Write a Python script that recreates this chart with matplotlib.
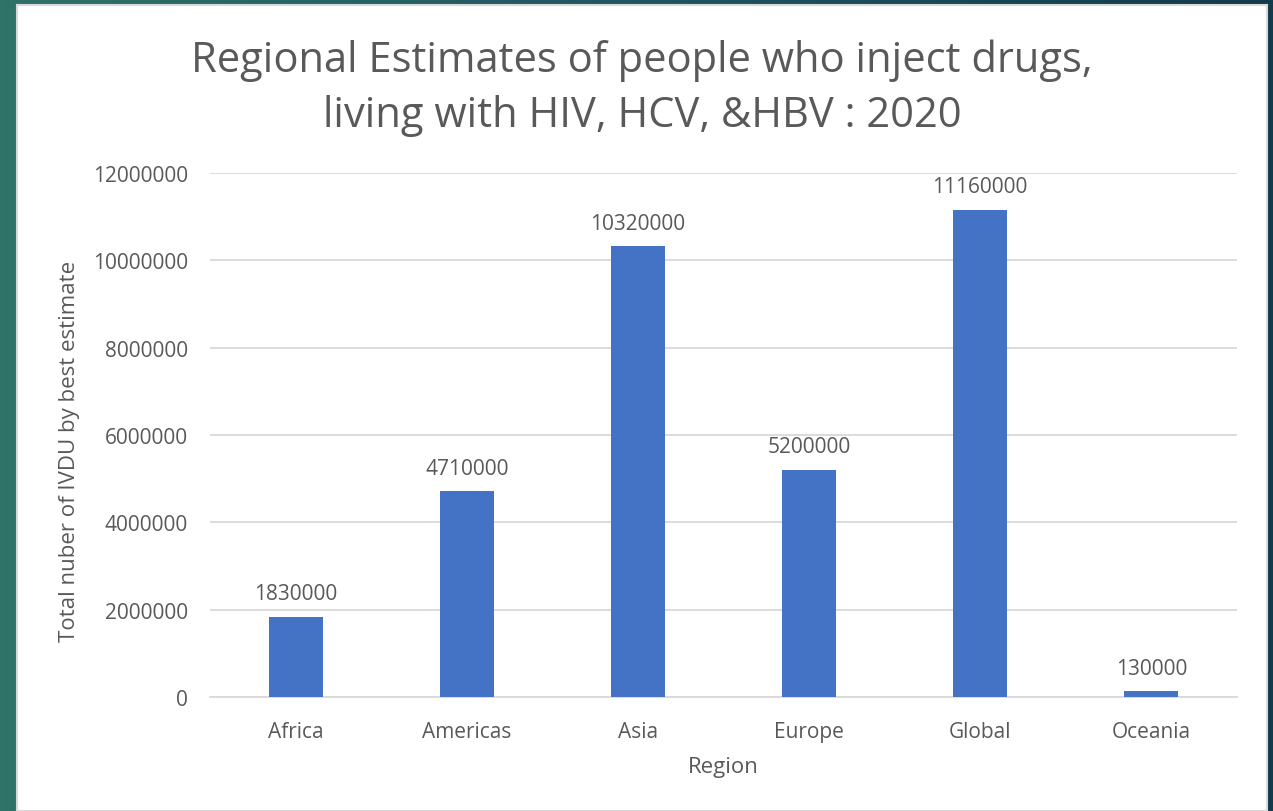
import matplotlib.pyplot as plt
from matplotlib.colors import LinearSegmentedColormap
import numpy as np

regions = ["Africa", "Americas", "Asia", "Europe", "Global", "Oceania"]
ivdu = [1830000, 4710000, 10320000, 5200000, 11160000, 130000]
yticks = [0, 2000000, 4000000, 6000000, 8000000, 10000000, 12000000]

plt.rcParams['font.family'] = ['Open Sans', 'DejaVu Sans']
grey = '#595959'

fig = plt.figure(figsize=(12.73, 8.12), dpi=100)

# slide background: teal to dark blue gradient
bg = fig.add_axes([0, 0, 1, 1])
grad = np.linspace(0, 1, 256).reshape(1, -1)
cmap = LinearSegmentedColormap.from_list('slide', ['#2f7268', '#1f5560', '#133a4b'])
bg.imshow(grad, aspect='auto', cmap=cmap, extent=[0, 1, 0, 1])
bg.axis('off')

# white chart panel
panel = fig.add_axes([17 / 1273, 0, 1250 / 1273, 1 - 6 / 812])
panel.set_facecolor('white')
panel.set_xticks([])
panel.set_yticks([])
for s in panel.spines.values():
    s.set_color('#d9d9d9')
    s.set_linewidth(1.5)

ax = fig.add_axes([210 / 1273, 1 - 698 / 812, 1027 / 1273, 524 / 812])
ax.set_facecolor('none')
x = np.arange(len(regions))
ax.bar(x, ivdu, width=0.316, color='#4472c4', zorder=3)
for xi, v in zip(x, ivdu):
    ax.text(xi, v + 290000, str(v), ha='center', va='bottom', fontsize=15, color=grey)

ax.set_xlim(-0.5, len(regions) - 0.5)
ax.set_ylim(0, 12000000)
ax.set_yticks(yticks)
ax.set_yticklabels([str(t) for t in yticks])
ax.set_xticks(x)
ax.set_xticklabels(regions)
ax.tick_params(axis='both', length=0, labelsize=15, colors=grey)
ax.tick_params(axis='x', pad=17)
ax.tick_params(axis='y', pad=16)
ax.grid(axis='y', color='#d9d9d9', linewidth=1.3, zorder=0)
for s in ['top', 'right', 'left']:
    ax.spines[s].set_visible(False)
ax.spines['bottom'].set_color('#d9d9d9')
ax.spines['bottom'].set_linewidth(1.3)

ax.set_xlabel('Region', fontsize=16, color=grey, va='center')
ax.xaxis.set_label_coords(0.5, -(768 - 698) / 524)
ax.set_ylabel('Total nuber of IVDU by best estimate', fontsize=16, color=grey, va='center')
ax.yaxis.set_label_coords((70 - 210) / 1027, (698 - 451) / 524)

fig.text(642 / 1273, 1 - 88 / 812,
         'Regional Estimates of people who inject drugs,\nliving with HIV, HCV, &HBV : 2020',
         ha='center', va='center', fontsize=30, color=grey, linespacing=1.4)

fig.savefig('out.png', dpi=100)
